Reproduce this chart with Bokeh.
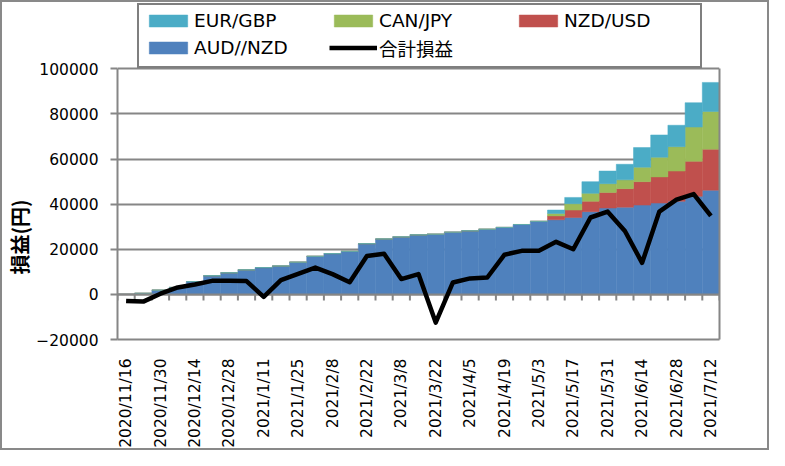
import numpy as np
from bokeh.plotting import figure
from bokeh.models import (ColumnDataSource, Range1d, FixedTicker, BasicTickFormatter,
                          Legend, LegendItem, Title, LinearAxis)
from bokeh.embed import file_html
from bokeh.resources import INLINE

# ---------------- data ----------------
dates = ["2020/11/16", "2020/11/23", "2020/11/30", "2020/12/7", "2020/12/14", "2020/12/21",
         "2020/12/28", "2021/1/4", "2021/1/11", "2021/1/18", "2021/1/25", "2021/2/1",
         "2021/2/8", "2021/2/15", "2021/2/22", "2021/3/1", "2021/3/8", "2021/3/15",
         "2021/3/22", "2021/3/29", "2021/4/5", "2021/4/12", "2021/4/19", "2021/4/26",
         "2021/5/3", "2021/5/10", "2021/5/17", "2021/5/24", "2021/5/31", "2021/6/7",
         "2021/6/14", "2021/6/21", "2021/6/28", "2021/7/5", "2021/7/12"]

aud_nzd = [0, 500, 1900, 3100, 5700, 8300, 9600, 10900, 11900, 12600, 14300, 16900,
           18100, 19100, 22500, 24600, 25500, 26400, 26700, 27600, 28200, 28900, 29700,
           31000, 32400, 33100, 34100, 36700, 38300, 38700, 39600, 40500, 41300, 43500,
           46200]
nzd_usd = [0] * 25 + [1700, 3300, 4600, 6900, 8200, 10400, 11600, 13400, 15500, 18200]
can_jpy = [0] * 25 + [1100, 2800, 3500, 3900, 3900, 6400, 8700, 10800, 15200, 16700]
eur_gbp = [0] * 25 + [1500, 2800, 5200, 5600, 6900, 8700, 9900, 9500, 10800, 12900]

total = [-2900, -3200, 300, 3100, 4400, 6000, 6100, 5900, -1100, 6300, 9100, 11900,
         9000, 5400, 17000, 18000, 6800, 9000, -12500, 5300, 7100, 7500, 17600, 19300,
         19400, 23300, 20000, 34100, 36700, 28100, 14000, 36700, 42000, 44500, 34800]

y_ticks = [-20000, 0, 20000, 40000, 60000, 80000, 100000]
label_every = 2

series_names = ["AUD//NZD", "NZD/USD", "CAN/JPY", "EUR/GBP"]
series_colors = ["#4F81BD", "#C0504D", "#9BBB59", "#4BACC6"]
legend_order = ["EUR/GBP", "CAN/JPY", "NZD/USD", "AUD//NZD"]
line_name = "合計損益"
y_title = "損益(円)"

# ---------------- layout (pixels) ----------------
GRAY = "#868686"
W, H = 769, 450
top_gap_px = 65.6       # room above the plot box for the legend
box_px = 267.4          # height of the plot box (-20000 .. 100000)
mb_top, mb_bottom = 0, 113

n = len(dates)
xs = list(range(n))
y0, y1 = y_ticks[0], y_ticks[-1]
y_end = y1 + (y1 - y0) * top_gap_px / box_px

src = ColumnDataSource(dict(x=xs, total=total, **{
    "AUD//NZD": aud_nzd, "NZD/USD": nzd_usd, "CAN/JPY": can_jpy, "EUR/GBP": eur_gbp}))

p = figure(width=W, height=H, output_backend="svg", toolbar_location=None,
           x_range=Range1d(-0.5, n - 0.5), y_range=Range1d(y0, y_end),
           min_border_left=109, min_border_right=52, min_border_top=mb_top,
           min_border_bottom=mb_bottom,
           styles={"border": "2px solid #898989", "box-sizing": "border-box"})
p.background_fill_color = "white"
p.border_fill_color = "white"
p.outline_line_color = None

# grid
p.xgrid.visible = False
p.ygrid.ticker = FixedTicker(ticks=y_ticks)
p.ygrid.grid_line_color = GRAY
p.ygrid.grid_line_width = 2

# y axis (left)
ya = p.yaxis[0]
ya.bounds = (y0, y1)
ya.ticker = FixedTicker(ticks=y_ticks)
ya.formatter = BasicTickFormatter(use_scientific=False)
ya.axis_line_color = GRAY
ya.axis_line_width = 2
ya.major_tick_line_color = GRAY
ya.major_tick_line_width = 2
ya.major_tick_out = 7
ya.major_tick_in = 0
ya.minor_tick_line_color = None
ya.major_label_standoff = 12
ya.major_label_text_font = "DejaVu Sans"
ya.major_label_text_font_size = "15.5px"
ya.major_label_text_color = "black"

# right edge of the plot box
ra = LinearAxis(bounds=(y0, y1), ticker=FixedTicker(ticks=[]), axis_line_color=GRAY,
                axis_line_width=2, major_tick_line_color=None, minor_tick_line_color=None,
                major_label_text_font_size="0px")
p.add_layout(ra, "right")

# x axis (bottom edge of the box + date labels)
xa = p.xaxis[0]
lab_idx = list(range(0, n, label_every))
xa.ticker = FixedTicker(ticks=lab_idx)
xa.major_label_overrides = {i: dates[i] for i in lab_idx}
xa.major_label_orientation = np.pi / 2
xa.axis_line_color = GRAY
xa.axis_line_width = 2
xa.major_tick_line_color = None
xa.minor_tick_line_color = None
xa.major_label_standoff = 13
xa.major_label_text_font = "DejaVu Sans"
xa.major_label_text_font_size = "15.5px"
xa.major_label_text_color = "black"

# bars
bars = p.vbar_stack(series_names, x="x", width=1.0, source=src,
                    color=series_colors, line_width=0.5)

# zero axis line and category ticks
p.hspan(y=[0], line_color=GRAY, line_width=2)
bounds = np.arange(n + 1) - 0.5
tick_len = (y1 - y0) * 6.0 / box_px
p.segment(x0=bounds, x1=bounds, y0=np.zeros(n + 1), y1=np.full(n + 1, -tick_len),
          line_color=GRAY, line_width=2)

# total line
ln = p.line("x", "total", source=src, line_color="black", line_width=4.5,
            line_join="round")

# legend (inside the frame, above the plot box)
by_name = dict(zip(series_names, bars))
items = [LegendItem(label=nm, renderers=[by_name[nm]]) for nm in legend_order]
items.append(LegendItem(label=line_name, renderers=[ln]))
leg_bottom_px = box_px + 3.9   # legend bottom, measured up from the frame bottom
leg = Legend(items=items, ncols=3, orientation="horizontal", location=(20, leg_bottom_px),
             glyph_width=48, glyph_height=15, label_width=131, label_height=20,
             label_standoff=2, spacing=4, padding=5, margin=0,
             border_line_color="black", border_line_width=2,
             background_fill_color="white", background_fill_alpha=1.0,
             label_text_font="DejaVu Sans, Noto Sans CJK JP",
             label_text_font_size="18.5px", label_text_color="black")
p.add_layout(leg)

# y title
p.add_layout(Title(text=y_title, align="left", offset=65, standoff=0,
                   text_font="Noto Sans CJK JP", text_font_style="bold",
                   text_font_size="20px", text_color="black"), "left")

open("out.html", "w").write(file_html(p, INLINE))
